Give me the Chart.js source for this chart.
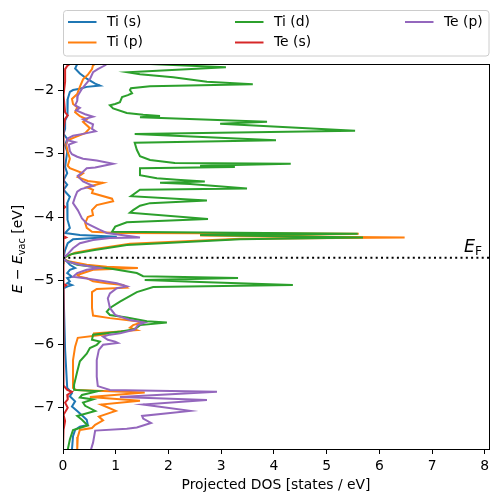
<!DOCTYPE html>
<html>
<head>
<meta charset="utf-8">
<script src="https://cdn.jsdelivr.net/npm/chart.js@4"></script>
<style>
  body { margin: 0; background: #fff; }
  #wrap { width: 499px; height: 502px; }
</style>
</head>
<body>
<div id="wrap"><canvas id="dosChart"></canvas></div>
<script>
// projected DOS, each point is [E - E_vac (eV), states / eV]
var tiS = [[-1.59,0.27],[-1.66,0.23],[-1.74,0.32],[-1.82,0.45],[-1.90,0.61],[-1.93,0.70],[-1.95,0.45],[-1.98,0.32],[-2.00,0.19],[-2.03,0.13],[-2.14,0.09],[-2.29,0.08],[-2.40,0.09],[-2.48,0.04],[-2.61,0.04],[-2.69,0.01],[-2.77,0.08],[-2.87,0.04],[-2.97,0.08],[-3.21,0.04],[-3.31,0.08],[-3.42,0.01],[-3.49,0.08],[-3.57,0.01],[-3.68,0.13],[-3.78,0.08],[-3.93,0.08],[-4.04,0.09],[-4.17,0.13],[-4.25,0.04],[-4.28,0.32],[-4.31,1.02],[-4.35,0.19],[-4.41,0.09],[-4.52,0.04],[-4.63,0.01],[-4.67,0.04],[-4.75,0.13],[-4.80,0.23],[-4.83,0.13],[-4.88,0.08],[-4.94,0.17],[-4.96,0.08],[-5.01,0.13],[-5.04,0.08],[-5.07,0.17],[-5.09,0.09],[-5.12,0.01],[-5.46,0.02],[-6.09,0.04],[-6.69,0.08],[-6.77,0.17],[-6.82,0.13],[-6.90,0.23],[-6.98,0.17],[-7.06,0.28],[-7.19,0.45],[-7.27,0.47],[-7.30,0.32],[-7.35,0.23],[-7.45,0.19],[-7.66,0.17]];

var tiP = [[-1.59,0.61],[-1.61,0.57],[-1.67,0.55],[-1.76,0.47],[-1.83,0.38],[-1.95,0.32],[-2.06,0.27],[-2.14,0.17],[-2.22,0.19],[-2.27,0.27],[-2.35,0.23],[-2.41,0.32],[-2.46,0.45],[-2.50,0.38],[-2.60,0.51],[-2.68,0.42],[-2.74,0.23],[-2.79,0.09],[-2.86,0.06],[-2.97,0.09],[-3.08,0.13],[-3.19,0.09],[-3.23,0.13],[-3.31,0.38],[-3.37,0.28],[-3.43,0.47],[-3.46,0.76],[-3.53,0.45],[-3.57,0.57],[-3.62,0.55],[-3.71,0.93],[-3.75,0.95],[-3.81,0.64],[-3.89,0.55],[-3.97,0.57],[-4.00,0.47],[-4.04,0.45],[-4.09,0.42],[-4.17,0.45],[-4.23,0.55],[-4.25,1.02],[-4.26,5.61],[-4.29,2.60],[-4.32,6.48],[-4.34,3.36],[-4.42,1.27],[-4.50,0.61],[-4.56,0.23],[-4.63,0.04],[-4.66,0.00],[-4.70,0.13],[-4.75,0.45],[-4.78,0.83],[-4.80,1.42],[-4.83,0.57],[-4.91,0.27],[-4.94,0.32],[-4.96,0.45],[-5.01,0.57],[-5.04,0.83],[-5.07,1.14],[-5.11,1.21],[-5.13,0.64],[-5.18,0.55],[-5.43,0.55],[-5.55,0.57],[-5.59,0.89],[-5.65,1.52],[-5.70,1.33],[-5.74,1.27],[-5.78,1.40],[-5.83,0.57],[-5.85,0.76],[-5.90,0.28],[-6.04,0.23],[-6.25,0.19],[-6.69,0.19],[-6.72,0.25],[-6.76,1.55],[-6.83,0.51],[-6.89,1.46],[-6.95,0.72],[-7.05,1.00],[-7.14,0.68],[-7.20,0.76],[-7.27,0.61],[-7.32,0.55],[-7.35,0.32],[-7.46,0.28],[-7.66,0.27]];

var tiD = [[-1.59,1.65],[-1.64,3.09],[-1.72,1.23],[-1.75,1.46],[-1.80,2.09],[-1.87,2.73],[-1.91,3.60],[-1.94,1.65],[-1.97,1.29],[-2.00,1.27],[-2.05,1.31],[-2.08,1.23],[-2.11,1.12],[-2.19,1.08],[-2.22,0.99],[-2.24,0.89],[-2.29,0.95],[-2.36,1.21],[-2.39,1.52],[-2.41,1.84],[-2.43,1.46],[-2.50,3.87],[-2.53,2.98],[-2.64,5.54],[-2.69,1.36],[-2.79,4.04],[-2.83,1.36],[-2.94,1.40],[-3.04,1.46],[-3.10,1.65],[-3.15,2.12],[-3.16,4.32],[-3.19,2.60],[-3.21,3.26],[-3.23,1.46],[-3.34,1.46],[-3.39,1.78],[-3.41,2.16],[-3.44,2.69],[-3.46,1.84],[-3.48,2.41],[-3.55,3.49],[-3.57,1.46],[-3.67,1.29],[-3.74,2.73],[-3.78,1.65],[-3.82,1.46],[-3.89,1.33],[-3.93,1.27],[-4.03,2.75],[-4.08,1.21],[-4.15,0.99],[-4.23,0.93],[-4.26,5.59],[-4.28,2.60],[-4.32,5.69],[-4.35,3.36],[-4.44,1.21],[-4.52,0.57],[-4.58,0.17],[-4.63,0.04],[-4.65,0.00],[-4.67,0.01],[-4.75,0.27],[-4.78,0.57],[-4.81,0.89],[-4.88,1.40],[-4.93,1.52],[-4.96,3.32],[-4.99,1.55],[-5.02,2.60],[-5.07,4.36],[-5.10,1.71],[-5.18,1.40],[-5.33,1.08],[-5.43,0.89],[-5.49,0.83],[-5.54,0.89],[-5.58,1.21],[-5.64,1.59],[-5.66,1.97],[-5.70,1.46],[-5.74,1.40],[-5.77,1.33],[-5.80,1.10],[-5.85,0.57],[-5.93,0.55],[-5.96,0.70],[-6.01,0.64],[-6.06,0.51],[-6.15,0.45],[-6.27,0.32],[-6.43,0.27],[-6.64,0.21],[-6.72,0.21],[-6.74,0.66],[-6.80,0.36],[-6.84,0.32],[-6.87,0.57],[-6.92,0.38],[-6.97,0.42],[-7.05,0.61],[-7.13,0.27],[-7.19,0.36],[-7.28,0.47],[-7.35,0.19],[-7.50,0.13],[-7.66,0.09]];

var teS = [[-1.59,0.13],[-1.62,0.08],[-1.67,0.04],[-1.87,0.04],[-2.08,0.01],[-2.35,0.04],[-2.40,0.09],[-2.45,0.04],[-2.61,0.01],[-3.81,0.01],[-3.84,0.04],[-3.87,0.01],[-4.30,0.01],[-4.32,0.06],[-4.34,0.01],[-5.05,0.01],[-5.07,0.06],[-5.10,0.01],[-6.65,0.01],[-6.72,0.08],[-6.75,0.17],[-6.80,0.08],[-6.87,0.09],[-6.92,0.04],[-7.00,0.09],[-7.11,0.01],[-7.21,0.04],[-7.35,0.01],[-7.66,0.00]];

var teP = [[-1.59,0.83],[-1.61,0.80],[-1.67,0.66],[-1.72,0.57],[-1.83,0.51],[-1.92,0.42],[-1.98,0.36],[-2.09,0.28],[-2.17,0.27],[-2.24,0.23],[-2.28,0.32],[-2.32,0.25],[-2.38,0.42],[-2.42,0.57],[-2.46,0.38],[-2.50,0.47],[-2.54,0.57],[-2.61,0.55],[-2.65,0.62],[-2.69,0.38],[-2.72,0.19],[-2.76,0.09],[-2.79,0.08],[-2.82,0.23],[-2.86,0.11],[-2.96,0.13],[-3.01,0.17],[-3.05,0.27],[-3.08,0.38],[-3.11,0.64],[-3.16,0.95],[-3.22,0.61],[-3.23,0.45],[-3.30,0.36],[-3.35,0.28],[-3.39,0.32],[-3.44,0.38],[-3.51,0.57],[-3.56,0.34],[-3.60,0.27],[-3.68,0.23],[-3.78,0.19],[-3.89,0.28],[-4.02,0.36],[-4.10,0.45],[-4.20,0.70],[-4.25,0.83],[-4.32,1.46],[-4.33,0.89],[-4.36,0.57],[-4.41,0.32],[-4.49,0.19],[-4.59,0.08],[-4.65,0.00],[-4.70,0.08],[-4.75,0.32],[-4.80,0.70],[-4.83,0.45],[-4.88,0.27],[-4.94,0.19],[-4.96,0.38],[-4.99,0.64],[-5.04,1.02],[-5.09,1.21],[-5.12,1.02],[-5.20,0.89],[-5.28,0.85],[-5.43,0.89],[-5.54,0.99],[-5.62,1.27],[-5.66,1.55],[-5.70,1.42],[-5.77,1.36],[-5.83,1.08],[-5.85,0.89],[-5.88,0.76],[-5.93,0.85],[-5.96,0.99],[-5.98,1.04],[-6.01,0.76],[-6.09,0.68],[-6.25,0.64],[-6.51,0.64],[-6.66,0.66],[-6.72,0.89],[-6.75,2.92],[-6.83,1.08],[-6.88,2.73],[-6.95,1.52],[-7.05,2.41],[-7.13,1.50],[-7.17,1.52],[-7.24,1.67],[-7.31,1.40],[-7.33,1.21],[-7.36,0.61],[-7.55,0.57],[-7.66,0.53]];

var seriesNames = ['Ti (s)', 'Ti (p)', 'Ti (d)', 'Te (s)', 'Te (p)'];
var seriesData = [tiS, tiP, tiD, teS, teP];
var seriesColors = ['#1f77b4', '#ff7f0e', '#2ca02c', '#d62728', '#9467bd'];
var xTicks = [0, 1, 2, 3, 4, 5, 6, 7, 8];
var yTicks = [-7, -6, -5, -4, -3, -2];
var eFermi = -4.64;
var xMax = 8.08, yMin = -7.65, yMax = -1.59;

var FONT = 'DejaVu Sans';

var datasets = seriesData.map(function(s, i) {
  return {
    label: seriesNames[i],
    data: s.map(function(p) { return {x: p[1], y: p[0]}; }),
    showLine: true,
    borderColor: seriesColors[i],
    backgroundColor: seriesColors[i],
    borderWidth: 2,
    pointRadius: 0,
    tension: 0,
    order: 5 - i   // later series drawn on top, like matplotlib
  };
});
datasets.push({
  label: 'EF',
  data: [{x: 0, y: eFermi}, {x: xMax, y: eFermi}],
  showLine: true,
  borderColor: '#000',
  borderWidth: 2,
  borderDash: [2, 3.3],
  pointRadius: 0,
  order: -1
});

function minusFmt(v) { return v < 0 ? '\u2212' + Math.abs(v) : String(v); }

// text pieces drawn in sequence: [text, size, italic, dy]
function drawPieces(ctx, pieces, x, y, align) {
  var w = 0;
  pieces.forEach(function(p) {
    ctx.font = (p[2] ? 'italic ' : '') + p[1] + 'px "' + FONT + '"';
    w += ctx.measureText(p[0]).width;
  });
  var cx = align === 'center' ? x - w / 2 : x;
  pieces.forEach(function(p) {
    ctx.font = (p[2] ? 'italic ' : '') + p[1] + 'px "' + FONT + '"';
    ctx.fillText(p[0], cx, y + p[3]);
    cx += ctx.measureText(p[0]).width;
  });
}

var extras = {
  id: 'extras',
  afterDraw: function(chart) {
    var ctx = chart.ctx, a = chart.chartArea;
    ctx.save();
    // frame
    ctx.strokeStyle = '#000';
    ctx.lineWidth = 1;
    ctx.strokeRect(Math.round(a.left) + 0.5, Math.round(a.top) + 0.5,
                   Math.round(a.right - a.left), Math.round(a.bottom - a.top));

    ctx.fillStyle = '#000';
    ctx.textBaseline = 'alphabetic';
    ctx.textAlign = 'left';

    // x label
    drawPieces(ctx, [['Projected DOS [states / eV]', 13.9, false, 0]], 276, 489, 'center');

    // y label, rotated
    ctx.save();
    ctx.translate(22, 249);
    ctx.rotate(-Math.PI / 2);
    drawPieces(ctx, [['E', 13.9, true, 0], [' \u2212 ', 13.9, false, 0], ['E', 13.9, true, 0],
                     ['vac', 9.7, false, 2.5], [' [eV]', 13.9, false, 0]], 0, 0, 'center');
    ctx.restore();

    // E_F label
    var yF = chart.scales.y.getPixelForValue(eFermi);
    drawPieces(ctx, [['E', 17.4, true, 0], ['F', 12.2, false, 2.6]], 464, yF - 5.5, 'left');

    // legend box
    var bx = 63.5, by = 10.5, bw = 425.5, bh = 45.5;
    ctx.fillStyle = 'rgba(255,255,255,0.8)';
    ctx.strokeStyle = '#cccccc';
    ctx.lineWidth = 1;
    ctx.beginPath();
    ctx.roundRect(bx, by, bw, bh, 3);
    ctx.fill();
    ctx.stroke();

    var colX = [68, 235, 405];
    var rowY = [22, 42.5];
    ctx.textBaseline = 'middle';
    ctx.font = '13.9px "' + FONT + '"';
    seriesNames.forEach(function(name, i) {
      var cx = colX[Math.floor(i / 2)], cy = rowY[i % 2];
      ctx.strokeStyle = seriesColors[i];
      ctx.lineWidth = 2;
      ctx.beginPath();
      ctx.moveTo(cx, cy);
      ctx.lineTo(cx + 28.5, cy);
      ctx.stroke();
      ctx.fillStyle = '#000';
      ctx.fillText(name, cx + 39, cy);
    });
    ctx.restore();
  }
};

new Chart(document.getElementById('dosChart').getContext('2d'), {
  type: 'scatter',
  data: { datasets: datasets },
  options: {
    responsive: true,
    maintainAspectRatio: false,
    animation: false,
    layout: { padding: { top: 64, right: 10, left: 0, bottom: 0 } },
    plugins: {
      legend: { display: false },
      tooltip: { enabled: false }
    },
    scales: {
      x: {
        type: 'linear',
        min: 0,
        max: xMax,
        afterBuildTicks: function(s) { s.ticks = xTicks.map(function(v) { return {value: v}; }); },
        afterFit: function(s) { s.height = 53; },
        grid: { drawOnChartArea: false, drawTicks: true, tickLength: 5, color: '#000', tickWidth: 1 },
        border: { display: false },
        ticks: { color: '#000', padding: 4, maxRotation: 0, font: { family: FONT, size: 13.9 }, callback: minusFmt }
      },
      y: {
        type: 'linear',
        min: yMin,
        max: yMax,
        afterBuildTicks: function(s) { s.ticks = yTicks.map(function(v) { return {value: v}; }); },
        afterFit: function(s) { s.width = 63; },
        grid: { drawOnChartArea: false, drawTicks: true, tickLength: 5, color: '#000', tickWidth: 1 },
        border: { display: false },
        ticks: { color: '#000', padding: 4, font: { family: FONT, size: 13.9 }, callback: minusFmt }
      }
    }
  },
  plugins: [extras]
});
</script>
</body>
</html>
